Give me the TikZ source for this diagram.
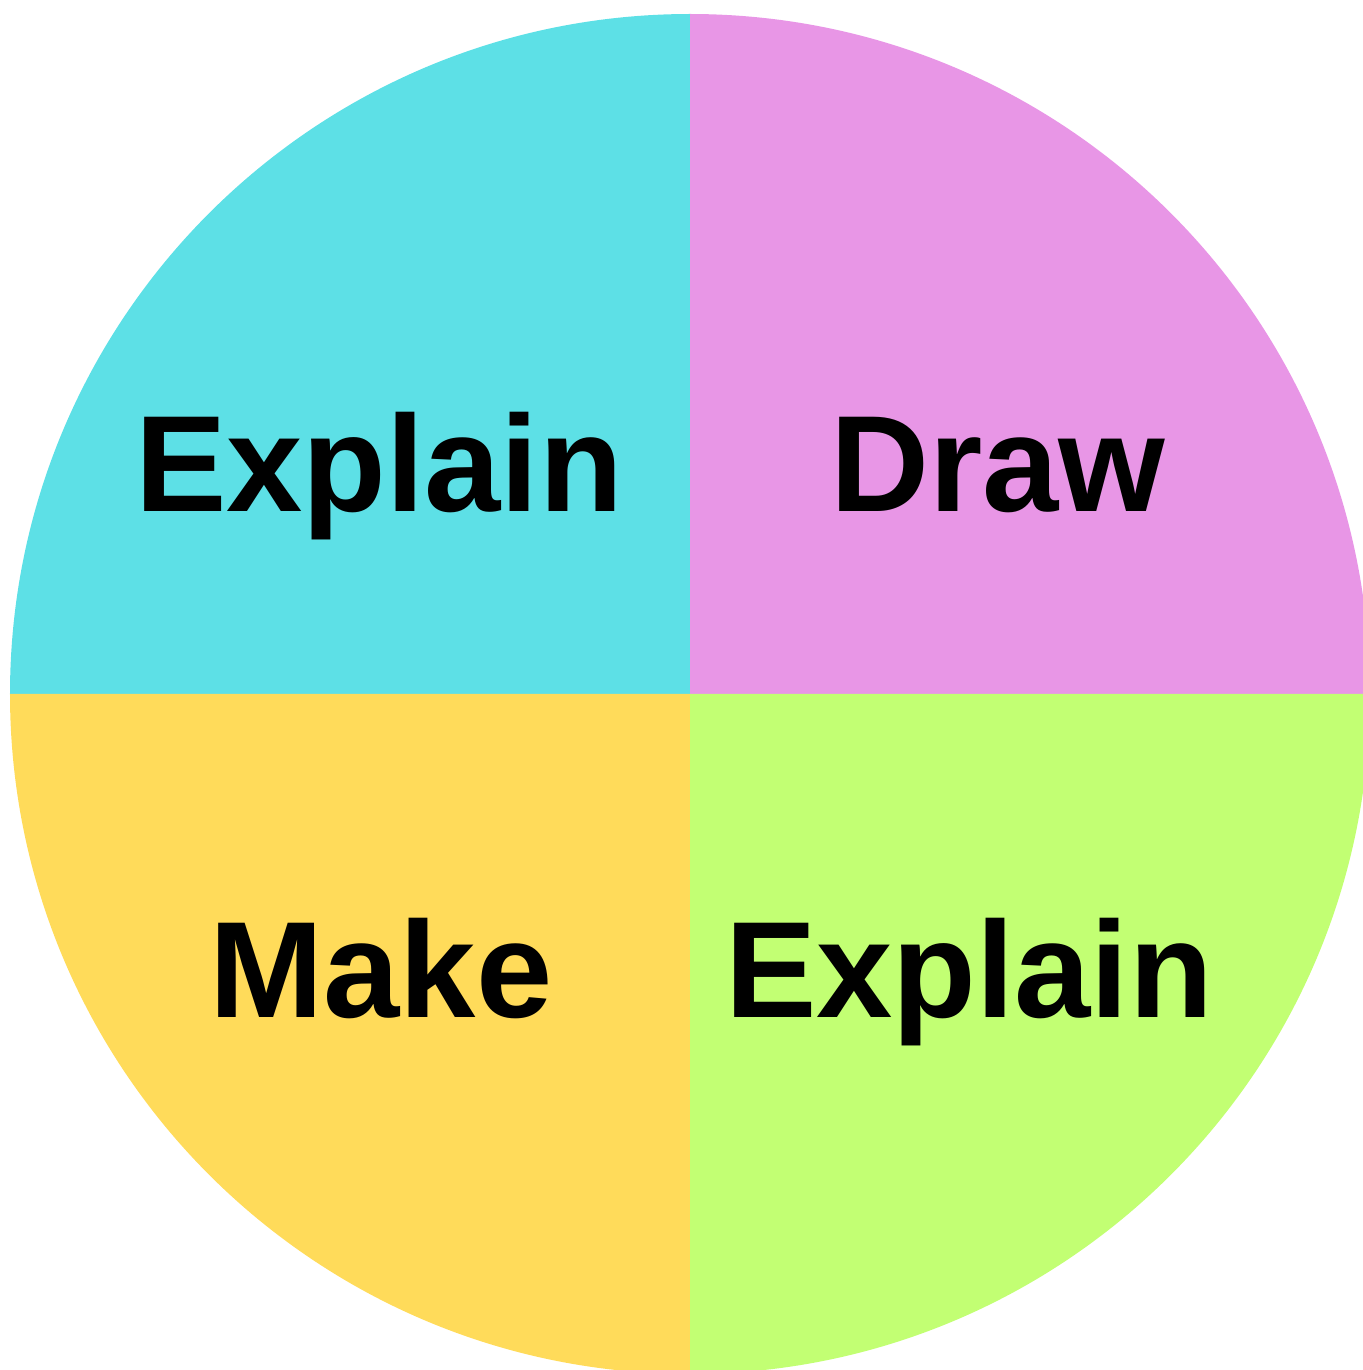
\documentclass[tikz,border=0pt]{standalone}
\usepackage{fontspec}
\setmainfont{Liberation Sans}
\usepackage{tikz}
\usetikzlibrary{positioning}
\definecolor{quadcyan}{RGB}{93,224,230}
\definecolor{quadpink}{RGB}{232,150,230}
\definecolor{quadyellow}{RGB}{255,219,90}
\definecolor{quadgreen}{RGB}{194,255,115}
\tikzset{
  quad/.style={draw=none},
  word/.style={anchor=base, inner sep=0pt, font=\fontsize{39}{47}\selectfont\bfseries, text=black},
}

\begin{document}
\begin{tikzpicture}
  \useasboundingbox (0,0) rectangle (13.63,13.70);
  \clip (0,0) rectangle (13.63,13.70);

  \coordinate (c) at (6.90,6.76);

  \fill[quad, quadcyan]   (c) -- ++(180:6.80) arc (180:90:6.80) -- cycle;
  \fill[quad, quadpink]   (c) -- ++(90:6.80) arc (90:0:6.80) -- cycle;
  \fill[quad, quadyellow] (c) -- ++(270:6.80) arc (270:180:6.80) -- cycle;
  \fill[quad, quadgreen]  (c) -- ++(0:6.80) arc (0:-90:6.80) -- cycle;

  \node[word] (explaintop) at (3.79,8.58) {Explain};
  \node[word] (draw) at (9.98,8.58) {Draw};
  \node[word] (make) at (3.81,3.52) {Make};
  \node[word] (explainbot) at (9.69,3.52) {Explain};
\end{tikzpicture}
\end{document}
